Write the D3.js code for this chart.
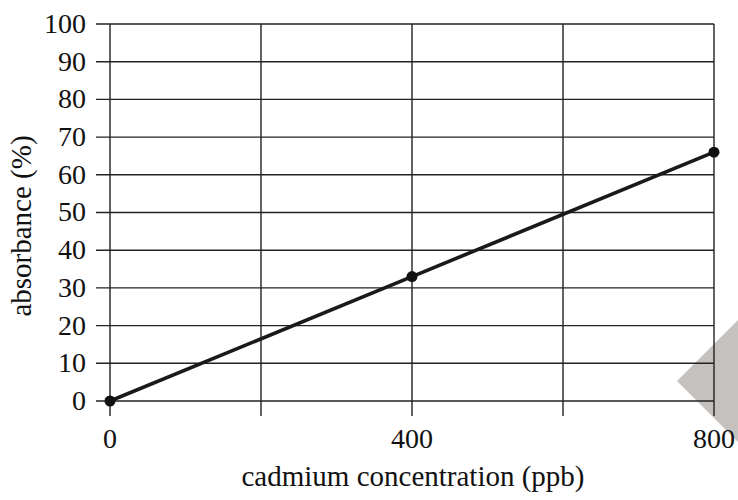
<!DOCTYPE html>
<html>
<head>
<meta charset="utf-8">
<script src="https://cdn.jsdelivr.net/npm/d3@7"></script>
<style>
  body { margin: 0; background: #fff; }
  svg { display: block; font-family: "Liberation Serif", "DejaVu Serif", serif; }
</style>
</head>
<body>
<svg id="chart" width="738" height="500"></svg>
<script>
// data
const concentration = [0, 400, 800];
const absorbance = [0, 33, 66];
const xTicks = [0, 200, 400, 600, 800];
const xTickLabels = ["0", "", "400", "", "800"];
const yTicks = [0, 10, 20, 30, 40, 50, 60, 70, 80, 90, 100];

const svg = d3.select("#chart");
const ink = "#222";

const x = d3.scaleLinear().domain([0, 800]).range([110, 714]);
const y = d3.scaleLinear().domain([0, 100]).range([401, 24]);

// grey corner shape (partly off the page)
svg.append("path")
    .attr("d", "M677,381 L740,318 L803,381 L740,444 Z")
    .attr("fill", "#c4c1be");

// horizontal grid with left tick stubs
svg.append("g")
    .selectAll("line")
    .data(yTicks)
    .join("line")
    .attr("x1", x(0) - 14)
    .attr("x2", x(800))
    .attr("y1", d => y(d))
    .attr("y2", d => y(d))
    .attr("stroke", ink)
    .attr("stroke-width", 1.4);

// vertical grid with bottom tick stubs
svg.append("g")
    .selectAll("line")
    .data(xTicks)
    .join("line")
    .attr("x1", d => x(d))
    .attr("x2", d => x(d))
    .attr("y1", y(100))
    .attr("y2", y(0) + 15)
    .attr("stroke", ink)
    .attr("stroke-width", 1.4);

// y tick labels
svg.append("g")
    .selectAll("text")
    .data(yTicks)
    .join("text")
    .attr("x", 86)
    .attr("y", d => y(d))
    .attr("dy", "0.32em")
    .attr("text-anchor", "end")
    .attr("font-size", 28)
    .attr("fill", "#111")
    .text(d => d);

// x tick labels
svg.append("g")
    .selectAll("text")
    .data(xTicks)
    .join("text")
    .attr("x", d => x(d))
    .attr("y", 448)
    .attr("text-anchor", "middle")
    .attr("font-size", 28)
    .attr("fill", "#111")
    .text((d, i) => xTickLabels[i]);

// axis titles
svg.append("text")
    .attr("x", 413)
    .attr("y", 486)
    .attr("text-anchor", "middle")
    .attr("font-size", 29)
    .attr("fill", "#111")
    .text("cadmium concentration (ppb)");

svg.append("text")
    .attr("transform", "translate(31," + 226 + ") rotate(-90)")
    .attr("text-anchor", "middle")
    .attr("font-size", 29)
    .attr("fill", "#111")
    .text("absorbance (%)");

// data line
const pts = concentration.map((c, i) => [c, absorbance[i]]);
svg.append("path")
    .datum(pts)
    .attr("d", d3.line().x(d => x(d[0])).y(d => y(d[1])))
    .attr("fill", "none")
    .attr("stroke", "#1a1a1a")
    .attr("stroke-width", 3.6);

svg.append("g")
    .selectAll("circle")
    .data(pts)
    .join("circle")
    .attr("cx", d => x(d[0]))
    .attr("cy", d => y(d[1]))
    .attr("r", 5.5)
    .attr("fill", "#111");
</script>
</body>
</html>
